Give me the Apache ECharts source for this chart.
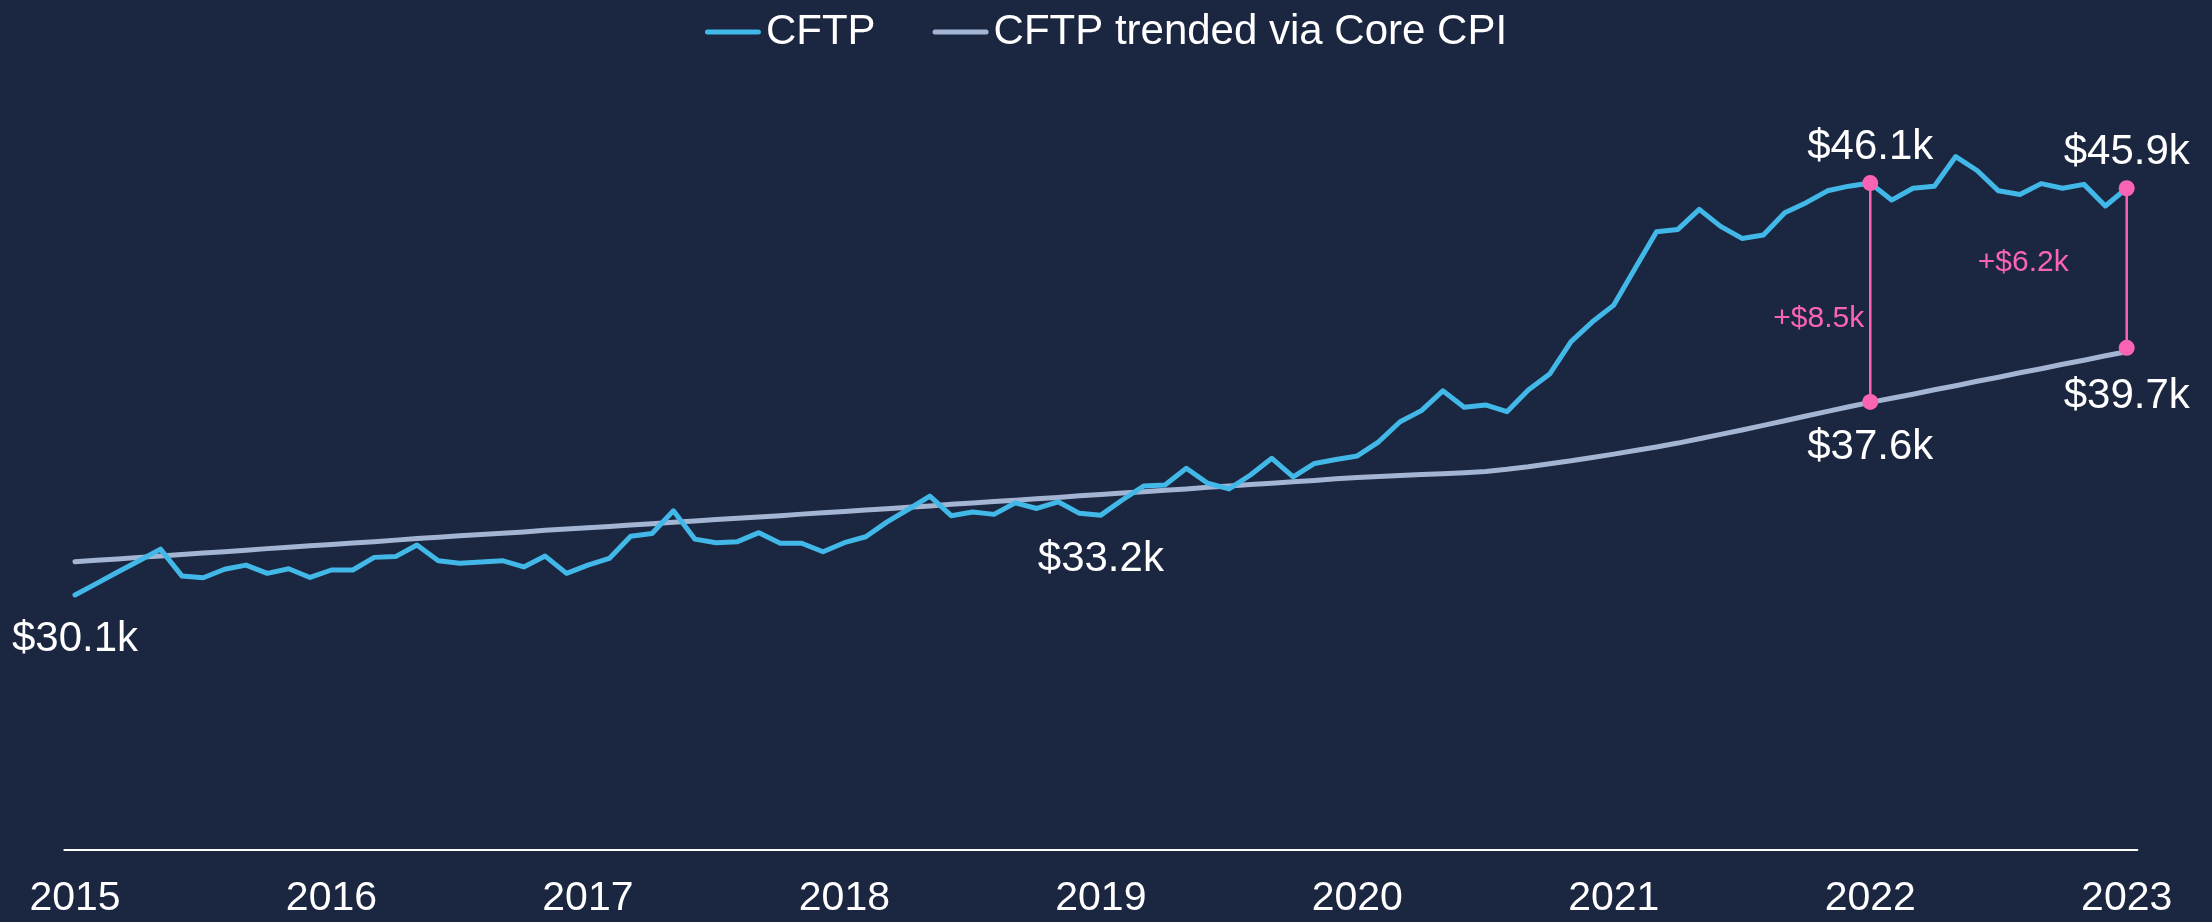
<!DOCTYPE html>
<html>
<head>
<meta charset="utf-8">
<script src="https://cdn.jsdelivr.net/npm/echarts@6/dist/echarts.min.js"></script>
<style>
  html, body { margin: 0; padding: 0; background: #1b2640; }
  #main { width: 2212px; height: 922px; }
</style>
</head>
<body>
<div id="main"></div>
<script>
// monthly categories Jan 2015 .. Jan 2023
const firstYear = 2015;
const lastYear = 2023;
const months = [];
for (let y = firstYear; y <= lastYear; y++) {
  for (let m = 1; m <= 12; m++) {
    if (y === lastYear && m > 1) break;
    months.push(y + "-" + String(m).padStart(2, "0"));
  }
}

// CFTP, $k
const cftp = [
  30.10, 30.54, 30.99, 31.43, 31.88, 30.84, 30.77, 31.10, 31.26, 30.94, 31.12, 30.78,
  31.07, 31.07, 31.56, 31.59, 32.04, 31.43, 31.33, 31.38, 31.43, 31.19, 31.61, 30.94,
  31.26, 31.52, 32.38, 32.49, 33.37, 32.27, 32.13, 32.17, 32.52, 32.11, 32.11, 31.78,
  32.13, 32.36, 32.94, 33.43, 33.94, 33.18, 33.32, 33.23, 33.68, 33.46, 33.72, 33.27,
  33.20, 33.79, 34.33, 34.37, 35.02, 34.44, 34.22, 34.76, 35.41, 34.69, 35.21, 35.36,
  35.50, 36.05, 36.83, 37.26, 38.03, 37.39, 37.48, 37.22, 38.06, 38.68, 39.94, 40.71,
  41.36, 42.79, 44.21, 44.30, 45.08, 44.42, 43.95, 44.08, 44.95, 45.34, 45.80, 45.98,
  46.10, 45.44, 45.90, 45.98, 47.13, 46.59, 45.80, 45.66, 46.08, 45.90, 46.05, 45.21,
  45.90
];

// CFTP trended via Core CPI, $k
const trended = [
  31.39, 31.45, 31.50, 31.56, 31.61, 31.67, 31.73, 31.78, 31.84, 31.90, 31.95, 32.01,
  32.06, 32.12, 32.17, 32.23, 32.29, 32.34, 32.40, 32.45, 32.50, 32.55, 32.61, 32.66,
  32.71, 32.76, 32.82, 32.87, 32.92, 32.97, 33.03, 33.08, 33.13, 33.18, 33.24, 33.29,
  33.34, 33.40, 33.45, 33.51, 33.56, 33.62, 33.67, 33.73, 33.78, 33.84, 33.89, 33.95,
  34.00, 34.06, 34.11, 34.17, 34.22, 34.28, 34.33, 34.39, 34.44, 34.50, 34.55, 34.61,
  34.66, 34.70, 34.74, 34.78, 34.81, 34.85, 34.90, 34.98, 35.08, 35.20, 35.31, 35.44,
  35.57, 35.71, 35.85, 36.00, 36.17, 36.34, 36.51, 36.69, 36.87, 37.05, 37.23, 37.41,
  37.58, 37.74, 37.90, 38.07, 38.23, 38.40, 38.56, 38.73, 38.89, 39.06, 39.22, 39.39,
  39.55
];

// labelled CFTP points
const calloutMonths = ["2015-01", "2019-01"];
// gap annotations
const gapMonths = ["2022-01", "2023-01"];
const gapTop = [46.1, 45.9];
const gapBottom = [37.6, 39.7];

const FONT = "'Liberation Sans', Arial, sans-serif";
const PINK = "#fb64b2";
const fmtK = (v) => "$" + v.toFixed(1) + "k";
// capsule shaped legend marker
const LEGEND_ICON = "path://M2.5,0 H53.5 A2.5,2.5 0 0 1 53.5,5 H2.5 A2.5,2.5 0 0 1 2.5,0 Z";

// per-annotation label placement (styles, not data)
const bottomDist = [17, 20];
const deltaDist = [6, 58];
const deltaOffset = [[0, 26], [0, -5]];

const gapSeries = gapMonths.map((m, k) => ({
  type: "line",
  silent: true,
  symbol: "circle",
  symbolSize: 16,
  itemStyle: { color: PINK, opacity: 1 },
  lineStyle: { color: PINK, width: 2.5 },
  label: {
    show: true,
    color: "#ffffff",
    fontSize: 42,
    fontFamily: FONT,
    formatter: (p) => fmtK(p.value[1])
  },
  z: 5,
  data: [
    { value: [m, gapTop[k]], label: { position: "top", distance: 7 } },
    { value: [m, gapBottom[k]], label: { position: "bottom", distance: bottomDist[k] } }
  ]
}));

const option = {
  backgroundColor: "#1b2640",
  animation: false,
  textStyle: { fontFamily: FONT },
  legend: {
    data: [
      { name: "CFTP", icon: LEGEND_ICON },
      { name: "CFTP trended via Core CPI", icon: LEGEND_ICON }
    ],
    top: 6,
    left: "center",
    itemWidth: 56,
    itemHeight: 5,
    itemGap: 57,
    textStyle: { color: "#ffffff", fontSize: 42, fontFamily: FONT }
  },
  grid: { left: 64.3, right: 74.6, top: 82.7, bottom: 72.2 },
  xAxis: {
    type: "category",
    data: months,
    boundaryGap: true,
    axisLine: { onZero: false, lineStyle: { color: "#ffffff", width: 2 } },
    axisTick: { show: false },
    splitLine: { show: false },
    axisLabel: {
      interval: 11,
      color: "#ffffff",
      fontSize: 41,
      fontFamily: FONT,
      margin: 28,
      formatter: (v) => v.slice(0, 4)
    }
  },
  yAxis: { type: "value", min: 20.2, max: 50, show: false },
  series: [
    {
      name: "CFTP trended via Core CPI",
      type: "line",
      data: trended,
      symbol: "none",
      lineStyle: { color: "#a3b5d3", width: 5, cap: "round", join: "round" },
      itemStyle: { color: "#a3b5d3" },
      z: 2
    },
    {
      name: "CFTP",
      type: "line",
      data: cftp,
      symbol: "none",
      lineStyle: { color: "#41b8e7", width: 5, cap: "round", join: "round" },
      itemStyle: { color: "#41b8e7" },
      z: 3
    },
    {
      type: "scatter",
      silent: true,
      symbolSize: 0,
      itemStyle: { opacity: 1 },
      data: calloutMonths.map((m) => [m, cftp[months.indexOf(m)]]),
      label: {
        show: true,
        position: "bottom",
        distance: 23,
        color: "#ffffff",
        fontSize: 42,
        fontFamily: FONT,
        formatter: (p) => fmtK(p.value[1])
      }
    },
    ...gapSeries,
    {
      type: "scatter",
      silent: true,
      symbolSize: 0,
      itemStyle: { opacity: 1 },
      z: 6,
      data: gapMonths.map((m, k) => ({
        value: [m, (gapTop[k] + gapBottom[k]) / 2],
        label: { distance: deltaDist[k], offset: deltaOffset[k] }
      })),
      label: {
        show: true,
        position: "left",
        color: PINK,
        fontSize: 30,
        fontFamily: FONT,
        formatter: (p) => "+$" + (gapTop[p.dataIndex] - gapBottom[p.dataIndex]).toFixed(1) + "k"
      }
    }
  ]
};

const chart = echarts.init(document.getElementById("main"));
chart.setOption(option);
window.onresize = function () {
  chart.resize();
};
</script>
</body>
</html>
